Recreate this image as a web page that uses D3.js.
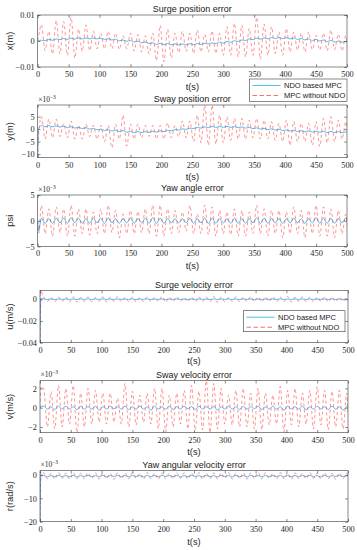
<!DOCTYPE html>
<html><head><meta charset="utf-8">
<script src="https://cdn.jsdelivr.net/npm/d3@7"></script>
<style>body{margin:0;background:#fff} svg{display:block}</style>
</head><body>
<svg id="chart" width="357" height="550"></svg>
<script>
// sample times (s): start, initial transient, then the extrema of the ~12 s oscillation
const tSec = [0, 1.5,
  6,12,18,24,30,36,42,48,54,60,66,72,78,84,90,96,102,108,114,120,126,132,138,144,
  150,156,162,168,174,180,186,192,198,204,210,216,222,228,234,240,246,252,258,264,270,276,282,288,
  294,300,306,312,318,324,330,336,342,348,354,360,366,372,378,384,390,396,402,408,414,420,426,432,
  438,444,450,456,462,468,474,480,486,492,498, 500];

const xTicks = [0, 50, 100, 150, 200, 250, 300, 350, 400, 450, 500];

// all error values below are in units of 1e-3
const surgePosNdo = [0, 0.1,
  0.3,0.1,0.6,0.3,0.8,0.5,1.0,0.6,1.1,0.7,1.2,0.8,
  1.2,0.8,1.2,0.8,1.1,0.6,0.9,0.4,0.7,0.1,0.4,-0.1,
  0.2,-0.4,-0.1,-0.7,-0.4,-1.0,-0.7,-1.3,-0.9,-1.4,-1.0,-1.5,
  -1.1,-1.5,-1.1,-1.5,-1.0,-1.4,-1.0,-1.3,-0.9,-1.2,-0.7,-1.0,
  -0.4,-0.8,-0.2,-0.5,0.1,-0.2,0.4,0.2,0.8,0.5,1.1,0.7,
  1.2,0.8,1.4,0.9,1.4,0.9,1.3,0.8,1.2,0.6,1.0,0.4,
  0.8,0.2,0.6,0,0.4,-0.2,0.2,-0.4,0,-0.5,-0.2, -0.3];
const surgePosMpc = [0, 2,
  6.3,-3.7,3.7,-5,7.9,-5,7.5,-5.5,9,-6.6,4.6,-4,
  6.2,-3.7,3.7,-3,3,-3,3.7,-3,3,-3.2,2,-3,
  3,-3.8,2.5,-4.2,2,-5,3,-7.5,6,-8,4.5,-6.6,
  3,-4.5,3.7,-4,3,-4.8,4.2,-4.2,2.6,-4.2,3.9,-4.8,
  2.9,-5.5,5.5,-5.5,6.8,-6.1,6.1,-6.1,4.8,-5.5,9.1,-7,
  6.5,-5.5,5.5,-4.8,3.5,-5.5,4.8,-4.2,3.5,-3.5,3,-4.2,
  3.5,-3.3,2.2,-3.5,3,-3.8,4.2,-3.3,2.6,-3.8,2, -0.5];

const swayPosNdo = [-11, 0,
  1.5,0.9,1.4,0.9,1.3,0.8,1.2,0.6,1.0,0.4,0.8,0.2,
  0.6,0,0.3,-0.3,0,-0.6,-0.2,-0.8,-0.4,-1.0,-0.6,-1.3,
  -0.9,-1.5,-1.0,-1.4,-1.0,-1.3,-0.9,-1.2,-0.7,-1.0,-0.5,-0.7,
  -0.2,-0.4,0.1,-0.1,0.4,0.2,0.7,0.4,0.9,0.6,1.1,0.7,
  1.1,0.7,1.1,0.7,1.0,0.6,0.9,0.4,0.7,0.2,0.5,0,
  0.3,-0.2,0.1,-0.4,-0.1,-0.6,-0.3,-0.8,-0.5,-1.0,-0.6,-1.1,
  -0.7,-1.2,-0.8,-1.3,-0.9,-1.4,-0.9,-1.4,-1.0,-1.5,-1.1, -1.3];
const swayPosMpc = [-11.5, -2,
  5,-4,4,-3.5,4,-3,2.2,-3.5,3.3,-4,1.5,-4,
  2,-3,1.5,-4,1.5,-5,1.5,-7.5,2,-4,5.6,-6.8,
  2,-4,2,-3.5,1.5,-3,1.5,-4,1.5,-4,2.5,-3.5,
  1.5,-3,3.3,-3.5,3.3,-5,5.6,-5.5,9.6,-6.5,9.6,-6,
  5.6,-5.5,5,-4.5,4.3,-4,4.3,-4,3.6,-3.5,4.3,-4,
  3.6,-4,3,-4.5,2.3,-5,3.6,-6.5,3,-5,2.3,-5,
  2.3,-6.5,3,-7,4.3,-5.5,5,-5,3.6,-4,3, 0];

const yawNdo = [0, -2,
  0.5,-0.5,0.4,-0.5,0.5,-0.4,0.5,-0.5,0.6,-0.4,0.5,-0.5,
  0.4,-0.5,0.5,-0.4,0.5,-0.5,0.6,-0.4,0.4,-0.5,0.4,-0.4,
  0.5,-0.5,0.4,-0.4,0.5,-0.5,0.6,-0.5,0.5,-0.5,0.4,-0.4,
  0.4,-0.4,0.4,-0.4,0.5,-0.5,0.4,-0.4,0.5,-0.5,0.5,-0.5,
  0.4,-0.4,0.4,-0.5,0.5,-0.5,0.4,-0.5,0.4,-0.4,0.6,-0.5,
  0.5,-0.5,0.4,-0.4,0.4,-0.5,0.4,-0.4,0.5,-0.4,0.4,-0.5,
  0.4,-0.4,0.6,-0.5,0.5,-0.5,0.5,-0.5,0.4,-0.4,0.5, 0];
const yawMpc = [0, -2.4,
  3,-2.5,2.3,-3,2.7,-2.3,2.3,-3,3,-3,2.3,-2.5,
  2.3,-2.8,1.7,-2.5,2.3,-2.5,3,-2.3,2,-3.3,1.3,-2.5,
  2,-2.5,1.8,-2.3,2.3,-2.5,3,-3,3,-3,2.3,-2.5,
  2,-2.3,1.7,-2,3,-2.5,1.3,-2.5,3,-2.7,2.7,-3,
  2,-2.5,1.7,-2.7,2.3,-3,2,-3,1.7,-2.5,3,-2.5,
  2.3,-3,2,-2.5,2,-3.3,1.7,-2.5,2.7,-2.5,2,-3.3,
  2,-2.5,3,-3,2.7,-3,2.3,-3.3,2,-2.5,1.3, -0.8];

const surgeVelNdo = [-40, 1,
  0.3,-0.3,0.2,-0.3,0.3,-0.2,0.3,-0.3,0.2,-0.3,0.3,-0.2,
  0.3,-0.3,0.2,-0.2,0.3,-0.3,0.2,-0.3,0.3,-0.2,0.2,-0.3,
  0.3,-0.3,0.2,-0.2,0.3,-0.3,0.2,-0.3,0.3,-0.3,0.2,-0.2,
  0.3,-0.3,0.2,-0.3,0.3,-0.2,0.3,-0.3,0.2,-0.3,0.3,-0.3,
  0.2,-0.2,0.3,-0.3,0.2,-0.3,0.3,-0.2,0.3,-0.3,0.2,-0.3,
  0.3,-0.3,0.2,-0.2,0.3,-0.3,0.2,-0.3,0.3,-0.2,0.2,-0.3,
  0.3,-0.3,0.2,-0.3,0.3,-0.2,0.3,-0.3,0.2,-0.3,0.2, 0];
const surgeVelMpc = [-40, 7.5,
  2,-2,1.5,-2.5,2,-2,1.8,-2.5,2.2,-2.8,1.5,-2,
  2,-2.2,1.5,-2,2.2,-2.5,1.8,-2,2.5,-2.2,1.5,-2,
  2,-2.5,1.5,-2,2.2,-2.2,1.8,-2,2.5,-2.8,1.8,-2.2,
  2,-2,1.5,-2.2,2,-2.5,2.2,-2,1.8,-2.2,2.5,-2.8,
  2,-2.2,1.5,-2,2.2,-2.5,1.8,-2,2.5,-2.2,2,-2.5,
  1.8,-2,2.2,-2.5,2,-2.2,2.5,-2.5,1.8,-2,2.2,-2.2,
  2,-2.5,1.8,-2,2.2,-2.5,2,-2.2,1.8,-2,1.5, 0];

const swayVelNdo = [0, 0.1,
  0.15,-0.15,0.1,-0.2,0.15,-0.1,0.15,-0.15,0.1,-0.2,0.15,-0.15,
  0.1,-0.15,0.15,-0.25,0.1,-0.15,0.15,-0.1,0.1,-0.15,0.15,-0.2,
  0.1,-0.15,0.15,-0.15,0.1,-0.25,0.15,-0.15,0.1,-0.15,0.15,-0.2,
  0.1,-0.15,0.15,-0.1,0.1,-0.2,0.15,-0.15,0.1,-0.15,0.15,-0.25,
  0.1,-0.15,0.15,-0.15,0.1,-0.2,0.15,-0.15,0.1,-0.1,0.15,-0.2,
  0.1,-0.15,0.15,-0.15,0.1,-0.25,0.15,-0.15,0.1,-0.15,0.15,-0.2,
  0.1,-0.15,0.15,-0.15,0.1,-0.2,0.15,-0.15,0.1,-0.25,0.1, 0];
const swayVelMpc = [0, 2.2,
  2,-2,1.65,-2.2,2.3,-2,2,-1.7,2.3,-2.6,1.5,-2,
  2,-1.7,1.8,-1.5,1.5,-1.7,1.5,-1.5,1,-1.7,2.5,-2,
  1.7,-1.8,1.3,-1.5,1.5,-1.7,2,-2.2,2,-2.5,1.3,-2,
  1.5,-1.7,1.8,-2.2,2.3,-2.3,1.7,-2.3,2.8,-2.6,2.5,-2.2,
  2,-1.7,1.3,-1.8,1.8,-2,2,-2,1.5,-2.2,2,-2.3,
  1.5,-1.8,1.3,-1.7,2.2,-2.5,1.8,-1.8,2,-2,1.5,-1.7,
  1.8,-2.2,2.2,-1.8,1.8,-2.3,1.7,-2,1.8,-2.2,1.5, -0.8];

const yawRateNdo = [-20, 0,
  -0.1,-0.7,-0.2,-0.7,-0.1,-0.6,-0.2,-0.7,-0.1,-0.8,-0.2,-0.6,
  -0.1,-0.7,-0.2,-0.7,-0.1,-0.8,-0.2,-0.6,-0.1,-0.7,-0.2,-0.7,
  -0.1,-0.6,-0.2,-0.8,-0.1,-0.7,-0.2,-0.7,-0.1,-0.6,-0.2,-0.7,
  -0.1,-0.8,-0.2,-0.7,-0.1,-0.6,-0.2,-0.7,-0.1,-0.7,-0.2,-0.8,
  -0.1,-0.6,-0.2,-0.7,-0.1,-0.7,-0.2,-0.8,-0.1,-0.6,-0.2,-0.7,
  -0.1,-0.7,-0.2,-0.6,-0.1,-0.8,-0.2,-0.7,-0.1,-0.7,-0.2,-0.6,
  -0.1,-0.7,-0.2,-0.8,-0.1,-0.7,-0.2,-0.6,-0.1,-0.7,-0.2, -0.4];
const yawRateMpc = [-20, 1.5,
  1,-1.5,0.8,-1.7,1.1,-1.4,0.9,-1.8,1,-1.5,0.8,-1.6,
  1.1,-1.4,0.9,-1.7,1,-1.5,0.8,-1.8,1.1,-1.5,0.9,-1.6,
  1,-1.4,0.8,-1.7,1.1,-1.5,0.9,-1.8,1,-1.5,0.8,-1.6,
  1.1,-1.4,1,-1.7,0.9,-1.5,1.1,-1.8,0.8,-1.5,1,-1.6,
  0.9,-1.4,1.1,-1.7,0.8,-1.5,1,-1.8,0.9,-1.5,1.1,-1.6,
  1,-1.4,0.8,-1.7,1.1,-1.5,0.9,-1.8,1,-1.5,0.8,-1.6,
  1.1,-1.4,0.9,-1.7,1,-1.5,0.8,-1.8,1,-1.5,0.8, -0.5];

const legendNames = ["NDO based MPC", "MPC without NDO"];

const panels = [
  {title: "Surge position error", ylabel: "x(m)", ndo: surgePosNdo, mpc: surgePosMpc,
   yDomain: [-10, 10], yTicks: [-10, 0, 10], yLabels: ["\u22120.01", "0", "0.01"], exp: false},
  {title: "Sway position error", ylabel: "y(m)", ndo: swayPosNdo, mpc: swayPosMpc,
   yDomain: [-11.5, 9.7], yTicks: [-10, -5, 0, 5], yLabels: ["\u221210", "\u22125", "0", "5"], exp: true},
  {title: "Yaw angle error", ylabel: "psi", ndo: yawNdo, mpc: yawMpc,
   yDomain: [-5, 5], yTicks: [-5, 0, 5], yLabels: ["\u22125", "0", "5"], exp: true},
  {title: "Surge velocity error", ylabel: "u(m/s)", ndo: surgeVelNdo, mpc: surgeVelMpc,
   yDomain: [-40, 8], yTicks: [-40, -20, 0], yLabels: ["\u22120.04", "\u22120.02", "0"], exp: false},
  {title: "Sway velocity error", ylabel: "v(m/s)", ndo: swayVelNdo, mpc: swayVelMpc,
   yDomain: [-2.6, 2.8], yTicks: [-2, 0, 2], yLabels: ["\u22122", "0", "2"], exp: true},
  {title: "Yaw angular velocity error", ylabel: "r(rad/s)", ndo: yawRateNdo, mpc: yawRateMpc,
   yDomain: [-20, 1.9], yTicks: [-20, -10, 0], yLabels: ["\u221220", "\u221210", "0"], exp: true}
];

// axes boxes in pixels
const boxes = [
  {left: 37.7, right: 347, top: 15, bottom: 67, titleY: 11.5, xlabY: 89.5},
  {left: 37.7, right: 347, top: 105, bottom: 157.7, titleY: 101.5, xlabY: 180},
  {left: 37.7, right: 347, top: 195, bottom: 246.5, titleY: 191, xlabY: 269},
  {left: 40, right: 348, top: 290.5, bottom: 342.7, titleY: 287.5, xlabY: 364},
  {left: 40, right: 348, top: 380.7, bottom: 432.7, titleY: 378, xlabY: 455},
  {left: 40, right: 348, top: 470.7, bottom: 521.7, titleY: 468, xlabY: 545}
];

const blue = "#4dbeee", red = "#ff3b3b", axisCol = "#3a3a3a";
const sans = "'Liberation Sans', Arial, sans-serif";
const serif = "'Liberation Serif', 'DejaVu Serif', serif";

const svg = d3.select("#chart");

panels.forEach((p, i) => {
  const b = boxes[i];
  const x = d3.scaleLinear().domain([0, 500]).range([b.left, b.right]);
  const y = d3.scaleLinear().domain(p.yDomain).range([b.bottom, b.top]);
  const g = svg.append("g");

  g.append("clipPath").attr("id", "clip" + i)
    .append("rect").attr("x", b.left).attr("y", b.top)
    .attr("width", b.right - b.left).attr("height", b.bottom - b.top);

  const line = d3.line()
    .x((d, j) => x(tSec[j]))
    .y(d => y(d))
    .curve(d3.curveMonotoneX);

  const plot = g.append("g").attr("clip-path", `url(#clip${i})`);
  plot.append("path").datum(p.ndo).attr("d", line)
    .attr("fill", "none").attr("stroke", blue).attr("stroke-width", 1);
  plot.append("path").datum(p.mpc).attr("d", line)
    .attr("fill", "none").attr("stroke", red).attr("stroke-width", 0.7)
    .attr("stroke-opacity", 0.78).attr("stroke-dasharray", "3.2,2.6");

  // axes with inward ticks on all four sides
  g.append("g").attr("transform", `translate(0,${b.bottom})`)
    .call(d3.axisBottom(x).tickValues(xTicks).tickSizeInner(-2.8).tickSizeOuter(0).tickPadding(4));
  g.append("g").attr("transform", `translate(0,${b.top})`)
    .call(d3.axisTop(x).tickValues(xTicks).tickSizeInner(-2.8).tickSizeOuter(0).tickFormat(""));
  g.append("g").attr("transform", `translate(${b.left},0)`)
    .call(d3.axisLeft(y).tickValues(p.yTicks).tickSizeInner(-2.8).tickSizeOuter(0).tickPadding(3)
      .tickFormat((d, k) => p.yLabels[k]));
  g.append("g").attr("transform", `translate(${b.right},0)`)
    .call(d3.axisRight(y).tickValues(p.yTicks).tickSizeInner(-2.8).tickSizeOuter(0).tickFormat(""));

  g.selectAll(".domain").remove();
  g.selectAll(".tick line").attr("stroke", axisCol).attr("stroke-width", 0.6);
  g.selectAll(".tick text").attr("fill", "#262626").style("font-family", serif).style("font-size", "8.3px");

  g.append("rect").attr("x", b.left).attr("y", b.top)
    .attr("width", b.right - b.left).attr("height", b.bottom - b.top)
    .attr("fill", "none").attr("stroke", axisCol).attr("stroke-width", 0.6);

  g.append("text").attr("x", (b.left + b.right) / 2).attr("y", b.titleY)
    .attr("text-anchor", "middle").style("font-family", sans).style("font-size", "9px")
    .attr("fill", "#1a1a1a").text(p.title);

  g.append("text").attr("x", (b.left + b.right) / 2).attr("y", b.xlabY)
    .attr("text-anchor", "middle").style("font-family", sans).style("font-size", "9.3px")
    .attr("fill", "#262626").text("t(s)");

  g.append("text")
    .attr("transform", `translate(13,${(b.top + b.bottom) / 2}) rotate(-90)`)
    .attr("text-anchor", "middle").style("font-family", sans).style("font-size", "9.3px")
    .attr("fill", "#262626").text(p.ylabel);

  if (p.exp) {
    const t = g.append("text").attr("x", b.left + 0.5).attr("y", b.top - 3.3)
      .style("font-family", serif).style("font-size", "7.5px").attr("fill", "#262626");
    t.append("tspan").text("\u00d710");
    t.append("tspan").attr("dy", -3).style("font-size", "5.5px").text("\u22123");
  }
});

// legends
const legends = [
  {x: 249.5, y: 79, w: 97.5, h: 22.5},
  {x: 243.5, y: 310.7, w: 101.5, h: 21}
];
legends.forEach(l => {
  const g = svg.append("g");
  g.append("rect").attr("x", l.x).attr("y", l.y).attr("width", l.w).attr("height", l.h)
    .attr("fill", "#fff").attr("stroke", axisCol).attr("stroke-width", 0.6);
  legendNames.forEach((name, k) => {
    const yy = l.y + 6.5 + k * 10;
    g.append("line").attr("x1", l.x + 3).attr("x2", l.x + 31).attr("y1", yy).attr("y2", yy)
      .attr("stroke", k === 0 ? blue : red).attr("stroke-width", k === 0 ? 1 : 0.75)
      .attr("stroke-dasharray", k === 0 ? null : "4.5,2.5");
    g.append("text").attr("x", l.x + 34.5).attr("y", yy + 2.6)
      .style("font-family", sans).style("font-size", "7.5px").attr("fill", "#1a1a1a").text(name);
  });
});
</script>
</body></html>
